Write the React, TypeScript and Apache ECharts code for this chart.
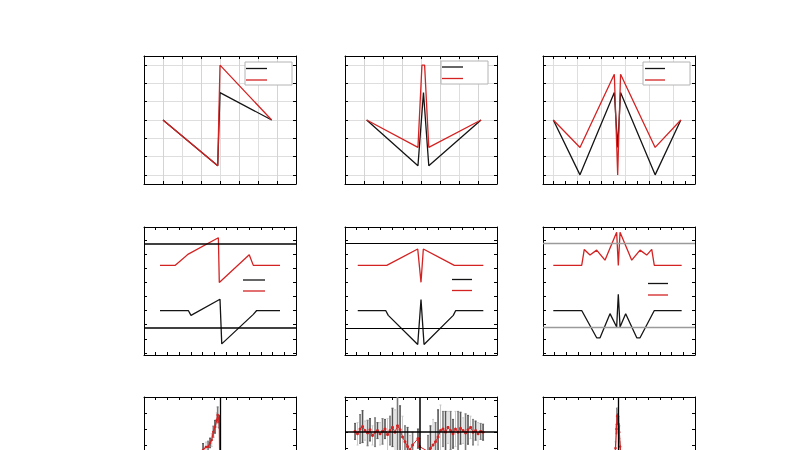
import React, { useEffect, useRef } from 'react';
import * as echarts from 'echarts';

const RED = '#d42222';
const BLACK = '#141414';

// ---------- Row 1 ----------
const p1X = [1.0, 3.88, 4.0, 6.72];
const p1Black = [3, 0.5, 4.5, 3];
const p1Red = [3, 0.5, 6, 3];

const p2BlackX = [1.14, 3.84, 4.13, 4.41, 7.16];
const p2Black = [3, 0.5, 4.5, 0.5, 3];
const p2RedX = [1.14, 3.84, 4.05, 4.19, 4.41, 7.16];
const p2Red = [3, 1.5, 6, 6, 1.5, 3];

const p3X = [0, 1.11, 2.54, 2.68, 2.8, 4.24, 5.31];
const p3Black = [3, 0, 4.5, 1.5, 4.5, 0, 3];
const p3Red = [3, 1.5, 5.5, 0, 5.5, 1.5, 3];

// ---------- Row 2 ----------
const p4RedX = [1.37, 2.65, 3.79, 6.36, 6.44, 9.0, 9.35, 11.63];
const p4Red = [5.2, 5.2, 6.0, 7.16, 3.99, 5.95, 5.2, 5.2];
const p4BlackX = [1.37, 3.79, 4.02, 6.5, 6.65, 9.35, 9.64, 11.63];
const p4Black = [2.0, 2.0, 1.66, 2.8, -0.36, 1.73, 2.0, 2.0];
const p4Levels = [6.76, 0.8];

const p5RedX = [1.09, 3.57, 6.22, 6.5, 6.7, 9.35, 11.83];
const p5Red = [5.2, 5.2, 6.36, 4.0, 6.36, 5.2, 5.2];
const p5BlackX = [1.09, 3.48, 3.7, 6.22, 6.5, 6.76, 9.26, 9.47, 11.83];
const p5Black = [2.0, 2.0, 1.66, -0.41, 2.78, -0.41, 1.66, 2.0, 2.0];
const p5Levels = [6.76, 0.78];

const p6RedX = [0.88, 3.31, 3.53, 4.02, 4.59, 5.3, 6.3, 6.44, 6.59, 7.59, 8.3, 8.87, 9.3, 9.52, 11.86];
const p6Red = [5.2, 5.2, 6.33, 5.93, 6.28, 5.57, 7.54, 5.2, 7.54, 5.57, 6.28, 5.93, 6.33, 5.2, 5.2];
const p6BlackX = [0.88, 3.31, 4.59, 4.88, 5.73, 6.3, 6.44, 6.59, 7.07, 8.02, 8.3, 9.52, 11.86];
const p6Black = [2.0, 2.0, 0.07, 0.07, 1.78, 0.83, 3.15, 0.83, 1.78, 0.07, 0.07, 2.0, 2.0];
const p6Levels = [6.76, 0.83];

// ---------- Row 3 ----------
const p7X = [4.3, 4.6, 4.85, 5.05, 5.3, 5.48, 5.65, 5.79, 5.93, 6.07, 6.22, 6.3, 6.44, 6.56];
const p7Y = [3.6, 3.9, 4.3, 4.69, 4.88, 4.89, 5.13, 5.31, 5.83, 6.14, 6.56, 6.88, 6.46, -1.0];
const p7Err = [0.35, 0.4, 0.3, 0.4, 0.3, 0.35, 0.3, 0.4, 0.35, 0.4, 0.45, 0.5, 0.4, 0.3];
const p7Center = 6.5;

const p8X = [
  0.86, 1.07, 1.29, 1.5, 1.71, 1.93, 2.14, 2.35, 2.57, 2.78, 3.0, 3.21, 3.42, 3.64, 3.85, 4.06,
  4.28, 4.49, 4.71, 4.92, 5.13, 5.35, 5.56, 5.78, 6.24, 6.38,
  7.1, 7.31, 7.53, 7.74, 7.96, 8.17, 8.38, 8.6, 8.81, 9.03, 9.24, 9.45, 9.67, 9.88, 10.1, 10.31,
  10.52, 10.74, 10.95, 11.17, 11.38, 11.6, 11.81,
];
const p8Y = [
  0.05, -0.1, 0.2, 0.35, 0.1, -0.05, 0.15, -0.2, 0.0, 0.1, -0.1, 0.05, 0.2, -0.15, 0.1, 0.3,
  0.0, 0.4, 0.15, -0.3, -0.6, -0.9, -1.1, -0.8, -0.4, -0.9,
  -1.2, -1.0, -0.8, -0.6, -0.3, 0.1, 0.2, 0.0, 0.3, 0.1, -0.1, 0.2, 0.0, 0.25, 0.1, -0.05,
  0.15, 0.3, 0.0, 0.1, -0.1, 0.05, 0.0,
];
const p8Err = [
  0.5, 0.7, 0.9, 1.0, 0.6, 0.8, 0.7, 0.6, 0.9, 0.5, 0.7, 0.8, 0.6, 1.0, 0.9, 1.2,
  1.4, 1.8, 1.5, 1.3, 1.0, 1.2, 0.9, 0.8, 0.6, 0.5,
  1.0, 1.4, 1.6, 1.2, 1.7, 1.6, 1.1, 1.3, 1.0, 1.2, 0.9, 1.1, 1.3, 1.0, 0.8, 1.2,
  0.9, 0.7, 0.8, 0.6, 0.7, 0.5, 0.5,
];
const p8Center = 6.42;

const p9X = [6.1, 6.2, 6.28, 6.34, 6.4, 6.46, 6.52, 6.6, 6.7];
const p9Y = [3.5, 4.8, 6.0, 6.8, 6.9, 6.3, 5.8, 4.9, 3.8];
const p9Err = [0.3, 0.4, 0.3, 0.5, 0.4, 0.5, 0.4, 0.3, 0.3];
const p9Center = 6.44;

// ---------- layout ----------
const W = 152;
const H = 128;
const LEFTS = [144, 345, 543];
const TOPS = [56, 227, 397];
const LW = 1.3;

type AxisCfg = {
  min: number;
  max: number;
  interval?: number;
  fixed1?: boolean;
  minor?: boolean;
  grid?: boolean;
  minorGrid?: boolean;
};

function mkAxis(gi: number, position: string, c: AxisCfg, main: boolean) {
  const ax: any = {
    type: 'value',
    gridIndex: gi,
    position,
    min: c.min,
    max: c.max,
    axisLine: { show: true, onZero: false, lineStyle: { color: '#000', width: 1 } },
    axisTick: { show: true, inside: true, length: 3, lineStyle: { color: '#000', width: 1 } },
    minorTick: { show: !!c.minor, splitNumber: 2, length: 3, lineStyle: { color: '#000', width: 1 } },
    axisLabel: { show: false },
    splitLine: { show: main && !!c.grid, lineStyle: { color: '#dedede', width: 1 } },
    minorSplitLine: { show: main && !!c.minorGrid, lineStyle: { color: '#d4d4d4', width: 1 } },
  };
  if (c.interval != null) ax.interval = c.interval;
  if (c.fixed1) {
    ax.minInterval = 1;
    ax.maxInterval = 1;
  }
  return ax;
}

export default function App() {
  const ref = useRef<HTMLDivElement>(null);
  useEffect(() => {
    if (!ref.current) return;
    const chart = echarts.init(ref.current, undefined, { renderer: 'svg' });

    const grids: any[] = [];
    const xAxes: any[] = [];
    const yAxes: any[] = [];
    const series: any[] = [];

    const addPanel = (col: number, row: number, xc: AxisCfg, yc: AxisCfg) => {
      const gi = grids.length;
      grids.push({ left: LEFTS[col], top: TOPS[row], width: W, height: H, containLabel: false });
      xAxes.push(mkAxis(gi, 'bottom', xc, true), mkAxis(gi, 'top', xc, false));
      yAxes.push(mkAxis(gi, 'left', yc, true), mkAxis(gi, 'right', yc, false));
      return gi;
    };

    const line = (gi: number, xs: number[], ys: number[], color: string, extra: any = {}) => ({
      type: 'line',
      xAxisIndex: 2 * gi,
      yAxisIndex: 2 * gi,
      data: xs.map((x, i) => [x, ys[i]]),
      symbol: 'none',
      lineStyle: { color, width: LW },
      itemStyle: { color },
      z: 3,
      ...extra,
    });

    const hLines = (vals: number[], color: string, width: number) => ({
      symbol: 'none',
      silent: true,
      label: { show: false },
      lineStyle: { color, width, type: 'solid' },
      data: vals.map((v) => ({ yAxis: v })),
    });

    const errBars = (gi: number, xs: number[], ys: number[], err: number[]) => ({
      type: 'custom',
      xAxisIndex: 2 * gi,
      yAxisIndex: 2 * gi,
      clip: true,
      z: 2,
      encode: { x: 0, y: [1, 2] },
      data: xs.map((x, i) => [x, ys[i] - err[i], ys[i] + err[i]]),
      renderItem: (params: any, api: any) => {
        const x = api.value(0);
        const a = api.coord([x, api.value(1)]);
        const b = api.coord([x, api.value(2)]);
        const k = params.dataIndex % 3;
        const color = k === 1 ? '#c8c8c8' : k === 2 ? '#7a7a7a' : '#555555';
        const st = { stroke: color, lineWidth: k === 1 ? 1 : 1.6 };
        return {
          type: 'group',
          children: [
            { type: 'line', shape: { x1: a[0], y1: a[1], x2: b[0], y2: b[1] }, style: st },
            { type: 'line', shape: { x1: a[0] - 1, y1: a[1], x2: a[0] + 1, y2: a[1] }, style: { stroke: color, lineWidth: 1 } },
            { type: 'line', shape: { x1: b[0] - 1, y1: b[1], x2: b[0] + 1, y2: b[1] }, style: { stroke: color, lineWidth: 1 } },
          ],
        };
      },
    });

    // Row 1
    const r1y: AxisCfg = { min: -0.5, max: 6.5, fixed1: true, grid: true };
    const r1x: AxisCfg = { min: 0, max: 8, interval: 2, minor: true, grid: true, minorGrid: true };
    const g1 = addPanel(0, 0, r1x, r1y);
    series.push(line(g1, p1X, p1Black, BLACK), line(g1, p1X, p1Red, RED));
    const g2 = addPanel(1, 0, r1x, r1y);
    series.push(line(g2, p2BlackX, p2Black, BLACK), line(g2, p2RedX, p2Red, RED));
    const g3 = addPanel(2, 0, { min: -0.43, max: 5.9, fixed1: true, minor: true, grid: true }, r1y);
    series.push(line(g3, p3X, p3Black, BLACK), line(g3, p3X, p3Red, RED));

    // Row 2
    const r2x: AxisCfg = { min: 0, max: 13, interval: 1 };
    const r2y: AxisCfg = { min: -1.15, max: 7.92, fixed1: true };
    const g4 = addPanel(0, 1, r2x, r2y);
    series.push(
      line(g4, p4BlackX, p4Black, BLACK, { markLine: hLines(p4Levels, '#000', 1.6) }),
      line(g4, p4RedX, p4Red, RED),
    );
    const g5 = addPanel(1, 1, r2x, r2y);
    series.push(
      line(g5, p5BlackX, p5Black, BLACK, { markLine: hLines(p5Levels, '#000', 1.1) }),
      line(g5, p5RedX, p5Red, RED),
    );
    const g6 = addPanel(2, 1, r2x, r2y);
    series.push(
      line(g6, p6BlackX, p6Black, BLACK, { markLine: hLines(p6Levels, '#9a9a9a', 1.4) }),
      line(g6, p6RedX, p6Red, RED),
    );

    // Row 3
    const r3x: AxisCfg = { min: 0, max: 13, interval: 1 };
    const vLine = (v: number) => ({
      symbol: 'none',
      silent: true,
      label: { show: false },
      lineStyle: { color: '#000', width: 1.3, type: 'solid' },
      data: [{ xAxis: v }],
    });
    const g7 = addPanel(0, 2, r3x, { min: 0, max: 8, interval: 1 });
    series.push(
      errBars(g7, p7X, p7Y, p7Err),
      line(g7, p7X, p7Y, RED, { symbol: 'circle', symbolSize: 2.5, showSymbol: true, markLine: vLine(p7Center) }),
    );
    const g8 = addPanel(1, 2, r3x, { min: -5.8, max: 2.2, fixed1: true });
    series.push(
      errBars(g8, p8X, p8Y, p8Err),
      line(g8, p8X, p8Y, RED, {
        symbol: 'circle',
        symbolSize: 3,
        showSymbol: true,
        lineStyle: { color: RED, width: 1 },
        markLine: {
          symbol: 'none',
          silent: true,
          label: { show: false },
          lineStyle: { color: '#000', width: 1.5, type: 'solid' },
          data: [{ xAxis: p8Center }, { yAxis: 0 }],
        },
      }),
    );
    const g9 = addPanel(2, 2, r3x, { min: 0, max: 8, interval: 1 });
    series.push(
      errBars(g9, p9X, p9Y, p9Err),
      line(g9, p9X, p9Y, RED, { symbol: 'circle', symbolSize: 2.5, showSymbol: true, markLine: vLine(p9Center) }),
    );

    // Legends (samples only, no text)
    const legLine = (x1: number, x2: number, y: number, color: string) => ({
      type: 'line',
      z: 100,
      shape: { x1, y1: y, x2, y2: y },
      style: { stroke: color, lineWidth: 1.3 },
    });
    const legBox = (x: number, y: number) => ({
      type: 'rect',
      z: 99,
      shape: { x, y, width: 47, height: 23 },
      style: { fill: '#fff', stroke: '#b4b4b4', lineWidth: 1 },
    });
    const graphic = [
      legBox(245, 62),
      legLine(246, 267, 68.5, BLACK),
      legLine(246, 267, 80, RED),
      legBox(441, 61),
      legLine(442, 463, 67, BLACK),
      legLine(442, 463, 78.5, RED),
      legBox(643, 62),
      legLine(645, 665, 68.5, BLACK),
      legLine(645, 665, 80, RED),
      legLine(243, 265, 280, BLACK),
      legLine(243, 265, 291, RED),
      legLine(452, 472, 279.5, BLACK),
      legLine(452, 472, 290.5, RED),
      legLine(648, 668, 283.5, BLACK),
      legLine(648, 668, 295, RED),
    ];

    chart.setOption({
      animation: false,
      backgroundColor: '#fff',
      grid: grids,
      xAxis: xAxes,
      yAxis: yAxes,
      series,
      graphic,
    });
    return () => chart.dispose();
  }, []);
  return (
    <div style={{ position: 'absolute', left: 0, top: 0, width: 800, height: 450, overflow: 'hidden' }}>
      <div ref={ref} style={{ position: 'absolute', left: 0, top: 0, width: 800, height: 540 }} />
    </div>
  );
}
